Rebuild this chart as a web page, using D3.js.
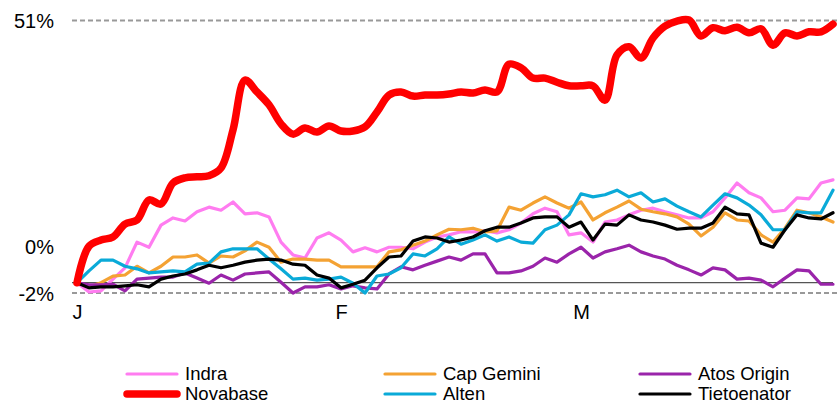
<!DOCTYPE html>
<html>
<head>
<meta charset="utf-8">
<script src="https://cdn.jsdelivr.net/npm/d3@7"></script>
<style>
  body { margin: 0; background: #fff; }
  text { font-family: "Liberation Sans", Arial, sans-serif; }
</style>
</head>
<body>
<div id="my_dataviz"></div>
<script>
// performance since start of year, in %, one value per trading day
var indra = [0, -1.8, -1.6, 0.7, 2.9, 7.9, 6.9, 11.2, 12.6, 12.0, 13.8, 14.7, 14.1, 15.7, 13.4, 13.6, 12.8, 7.9, 5.4, 4.8,
  8.7, 9.7, 8.3, 6.0, 6.8, 6.0, 6.9, 6.9, 6.6, 7.9, 8.9, 9.3, 9.9, 9.9, 10.1, 9.7, 10.3, 11.6, 13.4, 14.5,
  13.8, 9.3, 9.7, 7.9, 11.8, 12.2, 13.2, 14.1, 14.5, 13.8, 13.2, 12.6, 12.6, 13.8, 16.5, 19.4, 17.5, 16.5, 13.8, 14.1,
  16.5, 16.3, 19.4, 20.0]
var capGemini = [0, -0.8, 0, 1.3, 1.5, 3.2, 1.9, 3.2, 5.0, 5.0, 5.4, 3.8, 5.2, 5.0, 6.2, 7.9, 6.9, 4.0, 4.6, 4.6,
  4.4, 4.4, 3.1, 3.1, 3.1, 3.1, 6.0, 6.4, 7.3, 8.1, 9.3, 10.4, 10.3, 10.6, 9.9, 10.1, 14.7, 14.1, 15.5, 16.7,
  15.5, 14.5, 15.7, 12.2, 13.6, 14.7, 15.9, 14.3, 13.8, 13.4, 12.8, 11.4, 9.1, 10.8, 13.6, 12.2, 12.0, 9.3, 7.9, 10.6,
  14.1, 13.6, 12.8, 11.8]
var atosOrigin = [0, -0.4, -0.4, -0.3, -1.6, 0.7, 0.9, 1.1, 1.1, 1.9, 0.9, -0.1, 1.5, 0.5, 1.7, 1.9, 2.1, 0.1, -2.0, -0.8,
  -0.8, -0.4, -1.2, -0.6, -1.0, -1.2, 1.7, 3.1, 2.5, 3.4, 4.2, 5.0, 4.4, 5.6, 5.6, 1.9, 1.9, 2.3, 3.2, 4.8,
  4.0, 5.6, 6.9, 4.8, 6.0, 6.6, 7.3, 6.0, 5.2, 4.6, 3.4, 2.5, 1.5, 2.9, 2.5, 0.7, 0.9, 0.5, -0.8, 0.9,
  2.5, 2.3, -0.3, -0.3]
var novabase = [0, 7.1, 8.3, 8.9, 11.4, 12.2, 16.1, 15.3, 19.4, 20.4, 20.6, 20.8, 22.3, 29.7, 39.4, 37.1, 34.6, 30.9, 28.9, 30.1,
  29.3, 30.5, 29.5, 29.5, 30.3, 33.2, 36.5, 37.1, 36.3, 36.5, 36.5, 36.7, 37.1, 36.9, 37.5, 37.1, 42.5, 41.8, 39.8, 39.8,
  39.0, 38.3, 38.3, 38.3, 35.5, 44.3, 45.9, 43.7, 47.6, 49.9, 50.9, 51.1, 48.0, 49.6, 49.0, 49.7, 48.6, 49.4, 46.2, 48.6,
  48.0, 48.8, 48.8, 50.3]
var alten = [0, 2.3, 4.4, 4.4, 3.2, 2.7, 1.9, 2.1, 2.3, 2.1, 3.6, 3.8, 6.0, 6.6, 6.6, 6.6, 4.6, 2.7, 0.7, 0.9,
  0.5, 0.7, 1.1, -0.1, -2.0, 1.3, 1.7, 2.9, 5.6, 5.2, 6.6, 8.9, 7.5, 8.3, 9.3, 8.1, 8.9, 7.9, 7.7, 10.3,
  11.2, 13.2, 17.3, 16.7, 17.1, 18.0, 16.7, 17.5, 15.7, 16.3, 14.9, 13.8, 12.8, 15.1, 17.3, 16.5, 15.1, 13.2, 10.3, 10.3,
  13.8, 13.6, 13.6, 18.0]
var tietoenator = [0, -1.0, -0.8, -0.8, -0.6, -0.4, -0.8, 0.7, 1.3, 1.7, 2.5, 3.4, 2.9, 3.4, 4.0, 4.4, 4.6, 4.4, 3.6, 3.4,
  1.5, 0.9, -1.0, -0.3, 0.5, 2.9, 5.0, 5.2, 8.1, 8.9, 8.7, 7.9, 8.3, 8.9, 10.1, 10.8, 10.8, 11.6, 12.6, 12.8,
  12.8, 10.8, 11.8, 8.3, 11.4, 11.2, 13.2, 12.2, 11.8, 11.2, 10.4, 10.6, 10.6, 11.6, 14.7, 13.4, 13.2, 7.7, 6.9, 10.3,
  13.2, 12.6, 12.4, 13.6]

var monthLabels = ["J", "F", "M"]
var monthStart = [0, 22, 42]   // index of first trading day of each month
var yTicks = [-2, 0, 51]

var series = [
  {name: "Indra", values: indra, color: "#FF7CF0", width: 3.2},
  {name: "Cap Gemini", values: capGemini, color: "#F4A233", width: 3.2},
  {name: "Atos Origin", values: atosOrigin, color: "#9A24AA", width: 3.2},
  {name: "Alten", values: alten, color: "#0AAAD8", width: 3.2},
  {name: "Tietoenator", values: tietoenator, color: "#000000", width: 3.2},
  {name: "Novabase", values: novabase, color: "#FF0000", width: 7.5, smooth: true}
]
var legendOrder = ["Indra", "Cap Gemini", "Atos Origin", "Novabase", "Alten", "Tietoenator"]

var W = 837, H = 405
var svg = d3.select("#my_dataviz")
  .append("svg")
    .attr("width", W)
    .attr("height", H)

var x = d3.scaleLinear()
  .domain([0, indra.length - 1])
  .range([77, 833])
var y = d3.scaleLinear()
  .domain([-2, 51])
  .range([293, 20.5])

// dashed reference lines at top and bottom
svg.selectAll(".refline")
  .data([51, -2])
  .enter()
  .append("line")
    .attr("x1", 72).attr("x2", 837)
    .attr("y1", function(d) { return y(d) })
    .attr("y2", function(d) { return y(d) })
    .attr("stroke", "#999")
    .attr("stroke-width", 1.8)
    .attr("stroke-dasharray", "5,3")

// zero line
svg.append("line")
  .attr("x1", 72).attr("x2", 833)
  .attr("y1", y(0)).attr("y2", y(0))
  .attr("stroke", "#555")
  .attr("stroke-width", 1.2)

// Y axis labels
var yAxis = svg.append("g")
  .attr("transform", "translate(54,0)")
  .call(d3.axisLeft(y).tickValues(yTicks).tickSize(0).tickPadding(0)
    .tickFormat(function(d) { return d + "%" }))
yAxis.select(".domain").remove()
yAxis.selectAll("text")
  .style("font-family", "'Liberation Sans', Arial, sans-serif")
  .style("font-size", "20px")
  .attr("fill", "#000")
  .attr("dy", function(d) { return d === 0 ? "-1.45em" : "0.36em" })

// X axis labels
var xAxis = svg.append("g")
  .attr("transform", "translate(0,305)")
  .call(d3.axisBottom(x).tickValues(monthStart).tickSize(0).tickPadding(0)
    .tickFormat(function(d, i) { return monthLabels[i] }))
xAxis.select(".domain").remove()
xAxis.selectAll("text")
  .style("font-family", "'Liberation Sans', Arial, sans-serif")
  .style("font-size", "20px")
  .attr("fill", "#000")
  .attr("dy", "0.71em")

// lines
var lineStraight = d3.line()
  .x(function(d, i) { return x(i) })
  .y(function(d) { return y(d) })
var lineSmooth = d3.line()
  .x(function(d, i) { return x(i) })
  .y(function(d) { return y(d) })
  .curve(d3.curveCatmullRom.alpha(0.5))

svg.append("g")
  .selectAll("path")
  .data(series)
  .enter()
  .append("path")
    .attr("d", function(d) { return d.smooth ? lineSmooth(d.values) : lineStraight(d.values) })
    .attr("fill", "none")
    .attr("stroke", function(d) { return d.color })
    .attr("stroke-width", function(d) { return d.width })
    .attr("stroke-linejoin", "round")
    .attr("stroke-linecap", "round")

// legend
var colX = [127, 385, 640]
var rowY = [374, 394]
var legend = svg.append("g")
  .selectAll("g")
  .data(legendOrder)
  .enter()
  .append("g")
    .attr("transform", function(d, i) {
      return "translate(" + colX[i % 3] + "," + rowY[Math.floor(i / 3)] + ")" })
legend.append("line")
  .attr("x1", 0).attr("x2", 50)
  .attr("stroke", function(d) { return series.find(function(s) { return s.name === d }).color })
  .attr("stroke-width", function(d) { return series.find(function(s) { return s.name === d }).width })
  .attr("stroke-linecap", "round")
legend.append("text")
  .attr("x", 58)
  .attr("dy", "0.33em")
  .style("font-size", "18.5px")
  .attr("fill", "#000")
  .text(function(d) { return d })
</script>
</body>
</html>
